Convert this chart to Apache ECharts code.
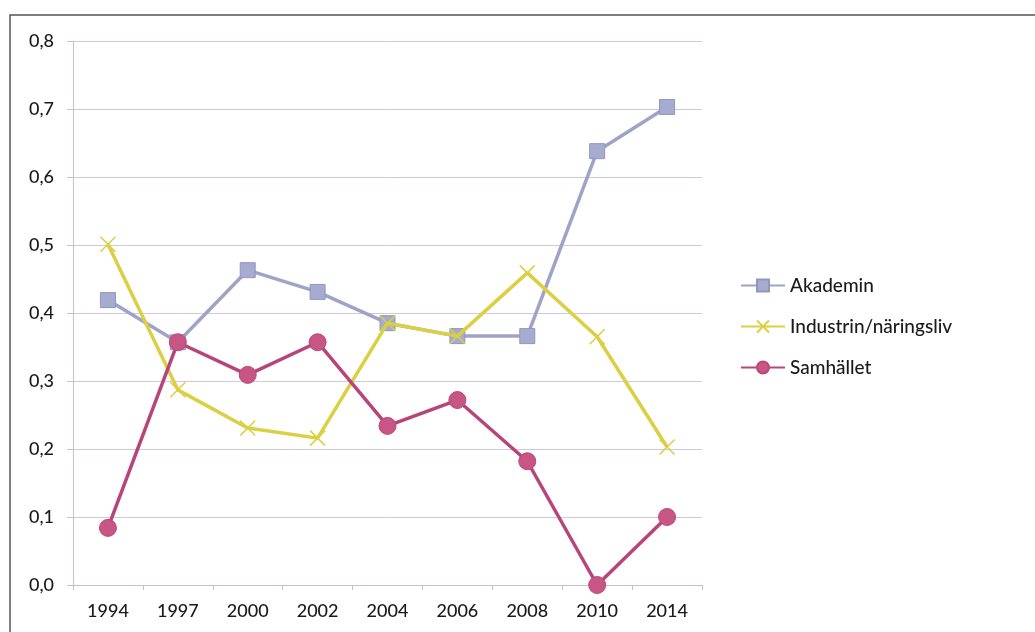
<!DOCTYPE html>
<html>
<head>
<meta charset="utf-8">
<script src="https://cdn.jsdelivr.net/npm/echarts@6/dist/echarts.min.js"></script>
<style>
html,body{margin:0;padding:0;background:#fff;}
#main{width:1035px;height:632px;}
</style>
</head>
<body>
<div id="main"></div>
<script>
const years = ['1994','1997','2000','2002','2004','2006','2008','2010','2014'];
const akademin = [0.419, 0.357, 0.463, 0.431, 0.385, 0.366, 0.366, 0.638, 0.703];
const industri = [0.501, 0.287, 0.231, 0.216, 0.385, 0.366, 0.459, 0.365, 0.203];
const samhallet = [0.084, 0.357, 0.309, 0.357, 0.234, 0.272, 0.182, 0.0, 0.100];
const seriesNames = ['Akademin', 'Industrin/näringsliv', 'Samhället'];

const chart = echarts.init(document.getElementById('main'));
const FONT = 'Lato, "Open Sans", sans-serif';
chart.setOption({
  animation: false,
  backgroundColor: '#fff',
  graphic: [{
    type: 'polyline',
    shape: { points: [[10, 640], [10, 15], [1040, 15]] },
    style: { stroke: '#555', lineWidth: 1.5, fill: null },
    silent: true
  }],
  grid: { left: 73, right: 333, top: 41, bottom: 47 },
  legend: {
    orient: 'vertical',
    left: 735,
    top: 271,
    itemGap: 22,
    itemWidth: 44,
    itemHeight: 15,
    textStyle: { fontFamily: FONT, fontSize: 19, fontWeight: 500, color: '#1a1a1a' },
    data: seriesNames
  },
  xAxis: {
    type: 'category',
    data: years,
    boundaryGap: true,
    axisLine: { lineStyle: { color: '#c4c0dc', width: 1 } },
    axisTick: { show: true, length: 5, lineStyle: { color: '#c4c0dc' } },
    axisLabel: { fontFamily: FONT, fontSize: 18, fontWeight: 500, color: '#1a1a1a', margin: 17 }
  },
  yAxis: {
    type: 'value',
    min: 0, max: 0.8, interval: 0.1,
    axisLine: { show: true, lineStyle: { color: '#c4c0dc' } },
    axisTick: { show: true, length: 6, lineStyle: { color: '#c4c0dc' } },
    axisLabel: {
      fontFamily: FONT, fontSize: 18, fontWeight: 500, color: '#1a1a1a', margin: 19,
      formatter: v => v.toFixed(1).replace('.', ',')
    },
    splitLine: { lineStyle: { color: '#cdc9e4', width: 1 } }
  },
  series: [
    {
      name: seriesNames[0], type: 'line', data: akademin,
      symbol: 'rect', symbolSize: 15,
      itemStyle: { color: '#a6abcf', borderColor: '#9097bf', borderWidth: 1 },
      lineStyle: { color: '#9ea3c8', width: 3.5 },
      z: 2
    },
    {
      name: seriesNames[1], type: 'line', data: industri,
      symbol: 'path://M0 0L10 10M10 0L0 10', symbolSize: 15,
      itemStyle: { color: '#dbcf42', borderColor: '#dbcf42', borderWidth: 1.5 },
      lineStyle: { color: '#dbcf42', width: 3.5 },
      z: 3
    },
    {
      name: seriesNames[2], type: 'line', data: samhallet,
      symbol: 'circle', symbolSize: 17,
      itemStyle: { color: '#c95585', borderColor: '#b84a78', borderWidth: 1 },
      lineStyle: { color: '#b8457a', width: 3.5 },
      z: 4
    }
  ]
});
</script>
</body>
</html>
